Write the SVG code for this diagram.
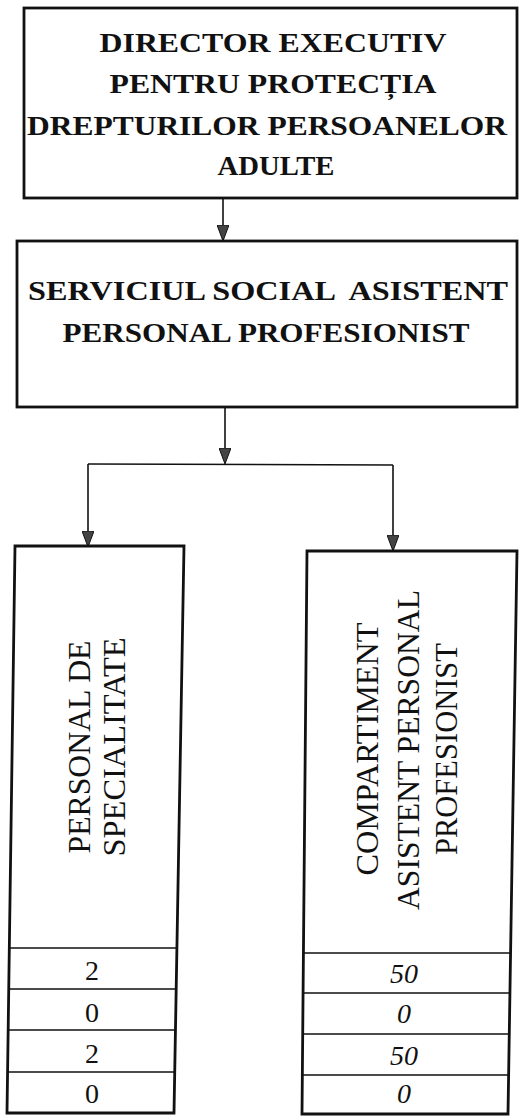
<svg xmlns="http://www.w3.org/2000/svg" width="519" height="1117" viewBox="0 0 519 1117">
  <style>
    .box { fill: #ffffff; stroke: #111111; stroke-width: 2.8; }
    .row { fill: none; stroke: #111111; stroke-width: 1.6; }
    .conn { fill: none; stroke: #111111; stroke-width: 1.6; }
    text { font-family: 'Liberation Serif', 'Times New Roman', 'DejaVu Serif', serif; fill: #111111; text-anchor: middle; }
    .title { font-weight: bold; font-size: 27px; }
    .vert { font-size: 31px; }
    .num { font-size: 28px; }
    .numi { font-size: 28px; font-style: italic; }
  </style>
  <defs>
    <marker id="arrow" viewBox="0 0 16 12" refX="15" refY="6" markerWidth="16" markerHeight="12" markerUnits="userSpaceOnUse" orient="auto">
      <path d="M0,0 L16,6 L0,12 Z" fill="#444444" stroke="#111111" stroke-width="1"/>
    </marker>
  </defs>
  <rect width="519" height="1117" fill="#ffffff"/>

  <g id="connectors">
    <path class="conn" d="M223,198 V240" marker-end="url(#arrow)"/>
    <path class="conn" d="M225,407 V463" marker-end="url(#arrow)"/>
    <path class="conn" d="M88,464 L393,465"/>
    <path class="conn" d="M88,464 V546" marker-end="url(#arrow)"/>
    <path class="conn" d="M393,465 V550" marker-end="url(#arrow)"/>
  </g>

  <g id="director">
    <rect class="box" x="24" y="8" width="493" height="190"/>
    <text class="title" x="273" y="52" textLength="347" lengthAdjust="spacingAndGlyphs">DIRECTOR EXECUTIV</text>
    <text class="title" x="273" y="93" textLength="327" lengthAdjust="spacingAndGlyphs">PENTRU PROTECȚIA</text>
    <text class="title" x="267" y="135" textLength="480" lengthAdjust="spacingAndGlyphs">DREPTURILOR PERSOANELOR</text>
    <text class="title" x="276" y="175" textLength="117" lengthAdjust="spacingAndGlyphs">ADULTE</text>
  </g>

  <g id="serviciul">
    <rect class="box" x="17" y="241" width="500" height="166"/>
    <text class="title" x="268" y="300" textLength="480" lengthAdjust="spacingAndGlyphs" xml:space="preserve">SERVICIUL SOCIAL  ASISTENT</text>
    <text class="title" x="266" y="342" textLength="407" lengthAdjust="spacingAndGlyphs">PERSONAL PROFESIONIST</text>
  </g>

  <g id="personal-specialitate">
    <path class="box" d="M15,546 L184,546 L174,1113 L7,1113 Z"/>
    <path class="row" d="M9,948 L178,948 M8,989 L177,989 M8,1030 L176,1030 M7,1072 L175,1072"/>
    <text class="vert" transform="translate(90,747) rotate(-90)" textLength="213" lengthAdjust="spacingAndGlyphs">PERSONAL DE</text>
    <text class="vert" transform="translate(125,747) rotate(-90)" textLength="219" lengthAdjust="spacingAndGlyphs">SPECIALITATE</text>
    <text class="num" x="92" y="980">2</text>
    <text class="num" x="92" y="1022">0</text>
    <text class="num" x="92" y="1063">2</text>
    <text class="num" x="92" y="1103">0</text>
  </g>

  <g id="compartiment">
    <path class="box" d="M307,551 L517,551 L508,1114 L302,1114 Z"/>
    <path class="row" d="M304,953 L511,953 M304,993 L510,993 M303,1034 L510,1034 M303,1075 L509,1075"/>
    <text class="vert" transform="translate(378,749) rotate(-90)" textLength="253" lengthAdjust="spacingAndGlyphs">COMPARTIMENT</text>
    <text class="vert" transform="translate(419,750) rotate(-90)" textLength="320" lengthAdjust="spacingAndGlyphs">ASISTENT PERSONAL</text>
    <text class="vert" transform="translate(457,749) rotate(-90)" textLength="212" lengthAdjust="spacingAndGlyphs">PROFESIONIST</text>
    <text class="numi" x="404" y="983">50</text>
    <text class="numi" x="404" y="1023">0</text>
    <text class="numi" x="404" y="1065">50</text>
    <text class="numi" x="404" y="1103">0</text>
  </g>
</svg>
